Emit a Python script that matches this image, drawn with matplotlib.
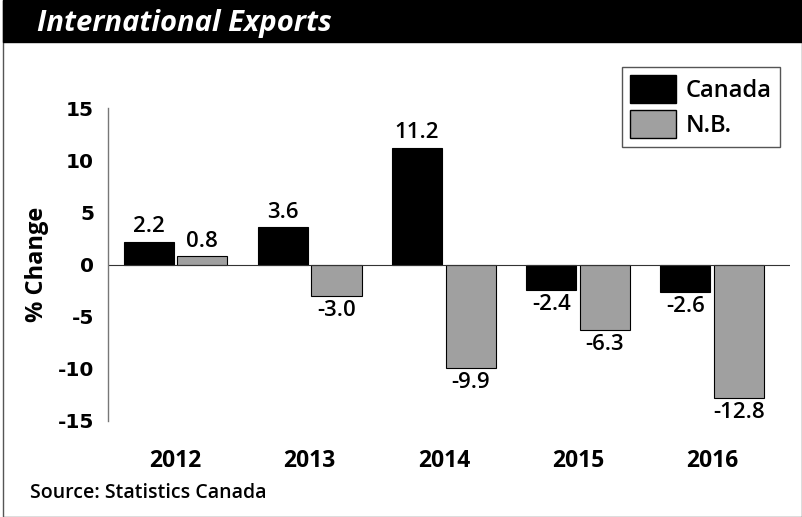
import matplotlib
matplotlib.use("Agg")
import matplotlib.pyplot as plt
from matplotlib.patches import Rectangle, Patch
import numpy as np

years = ["2012", "2013", "2014", "2015", "2016"]
canada = [2.2, 3.6, 11.2, -2.4, -2.6]
nb = [0.8, -3.0, -9.9, -6.3, -12.8]
yticks = [15, 10, 5, 0, -5, -10, -15]

W, H = 802, 517
fig = plt.figure(figsize=(W/100, H/100), dpi=100)

# frame and title bar
fig.patches.append(Rectangle((3/W, 0), 1-3.5/W, 1, transform=fig.transFigure,
                             fill=False, edgecolor="#555555", lw=1))
fig.patches.append(Rectangle((3/W, 1-42/H), 1-3/W, 42/H, transform=fig.transFigure,
                             facecolor="black", edgecolor="black"))
fig.text(37/W, 1-23/H, "International Exports", color="white", fontsize=21,
         fontweight="bold", fontstyle="italic", family="Open Sans", va="center", ha="left")

COND = "Open Sans"
left, right = 108/W, 790/W
bottom, top = 1-421/H, 1-108/H
ax = fig.add_axes([left, bottom, right-left, top-bottom])
x = np.arange(len(years))
w = 0.373
off = 0.2
b1 = ax.bar(x-off, canada, w, color="black", edgecolor="black", lw=0.8, label="Canada")
b2 = ax.bar(x+off, nb, w, color="#a0a0a0", edgecolor="black", lw=0.8, label="N.B.")
ax.set_xlim(-0.503, 4.58)
ax.set_ylim(-15, 15)
ax.axhline(0, color="#333333", lw=0.8)

for sp in ["top", "right", "bottom"]:
    ax.spines[sp].set_visible(False)
ax.spines["left"].set_color("#777777")
ax.spines["left"].set_linewidth(1)
ax.set_yticks(yticks)
ax.set_yticklabels([str(t) for t in yticks], fontsize=14.5, fontweight="bold", family="DejaVu Sans")
ax.tick_params(axis="y", length=0, pad=10)
ax.set_xticks(x)
ax.set_xticklabels(years, fontsize=16.5, family=COND, fontweight="bold")
ax.tick_params(axis="x", length=0, pad=20)
ax.set_ylabel("% Change", fontsize=17, fontweight="bold", family="Open Sans", labelpad=6)

for bars, vals in [(b1, canada), (b2, nb)]:
    for r, v in zip(bars, vals):
        cx = r.get_x() + r.get_width()/2
        if v >= 0:
            ax.annotate(f"{v:.1f}", (cx, v), xytext=(0, 3), textcoords="offset points",
                        ha="center", va="bottom", fontsize=16, family=COND, fontweight="semibold")
        else:
            ax.annotate(f"{v:.1f}", (cx, v), xytext=(0, -3), textcoords="offset points",
                        ha="center", va="top", fontsize=16, family=COND, fontweight="semibold")

leg = ax.legend(handles=[Patch(facecolor="black", edgecolor="black", label="Canada"),
                         Patch(facecolor="#a0a0a0", edgecolor="black", label="N.B.")],
                loc="upper right", bbox_to_anchor=(780/W, 1-67/H), bbox_transform=fig.transFigure,
                fancybox=False, framealpha=1, edgecolor="#555555",
                prop={"family": "Open Sans", "size": 17, "weight": "semibold"},
                handlelength=1.95, handleheight=1.45, handletextpad=0.4, labelspacing=0.3,
                borderpad=0.35, borderaxespad=0)
leg.get_frame().set_linewidth(1)

fig.text(30/W, 1-493/H, "Source: Statistics Canada", fontsize=14, family=COND,
         fontweight="semibold", va="center", ha="left")

fig.savefig("out.png", dpi=100)
